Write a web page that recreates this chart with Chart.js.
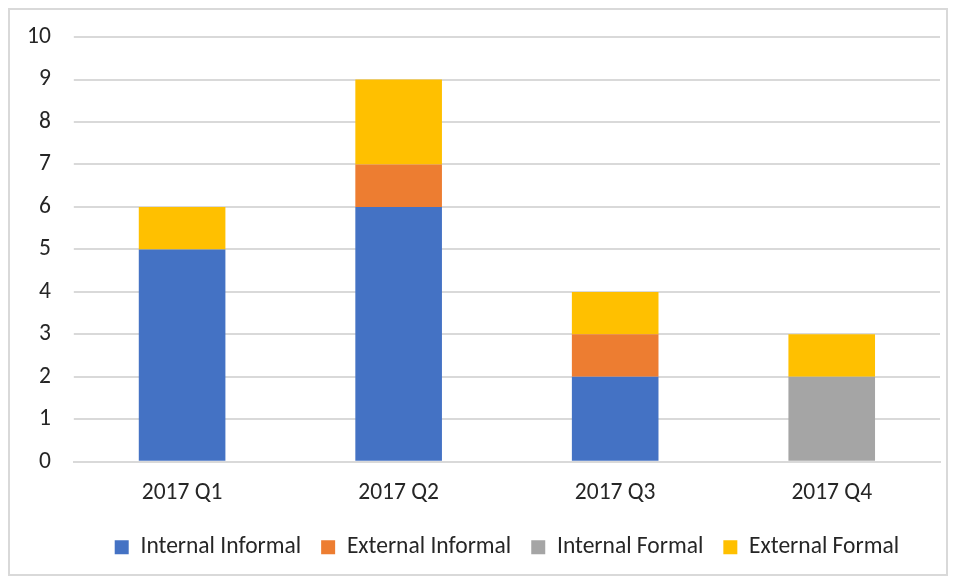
<!DOCTYPE html>
<html><head><meta charset="utf-8">
<script src="https://cdn.jsdelivr.net/npm/chart.js@4"></script>
<style>
html,body{margin:0;padding:0;background:#fff;}
#wrap{position:relative;width:958px;height:580px;}
#frame{position:absolute;left:8px;top:8px;width:940px;height:568px;border:2px solid #d9d9d9;box-sizing:border-box;pointer-events:none;}
canvas{position:absolute;left:0;top:0;}
</style></head>
<body>
<div id="wrap"><canvas id="c" width="958" height="580"></canvas><div id="frame"></div></div>
<script>
const categories = ["2017 Q1","2017 Q2","2017 Q3","2017 Q4"];
const internalInformal = [5,6,2,0];
const externalInformal = [0,1,1,0];
const internalFormal = [0,0,0,2];
const externalFormal = [1,2,1,1];
const seriesNames = ["Internal Informal","External Informal","Internal Formal","External Formal"];
const colors = ["#4472C4","#ED7D31","#A5A5A5","#FFC000"];
const FONT = "Carlito, Calibri, Lato, sans-serif";
const series = [internalInformal, externalInformal, internalFormal, externalFormal];
new Chart(document.getElementById('c'), {
  type:'bar',
  data:{labels:categories, datasets: series.map((d,i)=>({label:seriesNames[i], data:d, backgroundColor:colors[i], borderWidth:0, categoryPercentage:1, barPercentage:0.4}))},
  options:{
    responsive:false, animation:false, maintainAspectRatio:false,
    layout:{padding:{top:36,left:4,right:18,bottom:11}},
    plugins:{legend:{position:'bottom', fullSize:false, labels:{font:{family:FONT,size:23.5,lineHeight:0.6}, color:'#262626', boxWidth:14, boxHeight:14, padding:20}}, tooltip:{enabled:false}},
    scales:{
      x:{stacked:true, grid:{display:false}, border:{display:true,color:'#d9d9d9',width:2}, ticks:{font:{family:FONT,size:23.5,lineHeight:0.5}, color:'#262626', padding:17}},
      y:{stacked:true, min:0, max:10, border:{display:false}, grid:{color:'#d9d9d9', lineWidth:2, tickLength:0}, ticks:{stepSize:1, font:{family:FONT,size:23.5}, color:'#262626', padding:23}}
    }
  }
});
</script>
</body></html>
